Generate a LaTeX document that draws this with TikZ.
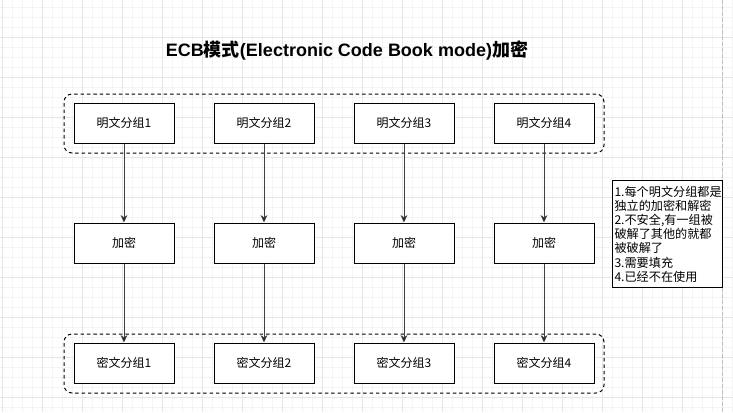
\documentclass[tikz,border=0pt]{standalone}
\usepackage{fontspec}
\setmainfont{Liberation Sans}
\newfontfamily\cjk{Noto Sans CJK SC}
\newfontfamily\cjkb{Noto Sans CJK SC Bold}
\usetikzlibrary{arrows.meta}
\definecolor{gridminor}{HTML}{F4F4F4}
\definecolor{gridmajor}{HTML}{E6E6E6}
\definecolor{pageline}{HTML}{C0C0C0}
\tikzset{
  minorline/.style={draw=gridminor, line width=0.75pt},
  majorline/.style={draw=gridmajor, line width=0.75pt},
  blockbox/.style={draw=black, line width=0.75pt, fill=white, minimum width=75pt, minimum height=30pt, inner sep=0pt, font=\cjk\fontsize{9}{11}\selectfont},
  groupbox/.style={draw=black, line width=0.75pt, dash pattern=on 2.6pt off 2.2pt, rounded corners=6pt, minimum width=405pt, minimum height=44.25pt, inner sep=0pt},
  notebox/.style={draw=black, line width=0.75pt, fill=white, anchor=north west, minimum width=82.5pt, minimum height=80.25pt, text width=79.5pt, inner sep=1.2pt, align=left, font=\cjk\fontsize{9.1}{10.65}\selectfont},
  arr/.style={draw=black!75, line width=0.75pt, -{Stealth[length=5.5pt, width=5pt, inset=1.5pt, fill=black]}}
}
\begin{document}
\begin{tikzpicture}[x=0.75pt, y=-0.75pt]
\useasboundingbox (0,0) rectangle (733,412);
\fill[white] (0,0) rectangle (733,412);
% grid
\foreach \x in {2,12,...,732} \draw[minorline] (\x,0) -- (\x,412);
\foreach \y in {7,17,...,412} \draw[minorline] (0,\y) -- (733,\y);
\foreach \x in {2,42,...,732} \draw[majorline] (\x,0) -- (\x,412);
\foreach \y in {37,77,...,412} \draw[majorline] (0,\y) -- (733,\y);
\draw[pageline, line width=0.75pt, dash pattern=on 3pt off 1.5pt] (722,0) -- (722,412);

% title
\node (title) at (347,51) {\fontsize{13.5}{16}\selectfont\bfseries ECB{\cjkb 模式}(Electronic Code Book mode){\cjkb 加密}};

% containers
\node[groupbox] (top) at (334,123.5) {};
\node[groupbox] (bot) at (334,363.5) {};

% top row
\node[blockbox] (p1) at (124,123) {明文分组1};
\node[blockbox] (p2) at (264,123) {明文分组2};
\node[blockbox] (p3) at (404,123) {明文分组3};
\node[blockbox] (p4) at (544,123) {明文分组4};
% middle row
\node[blockbox] (e1) at (124,243) {加密};
\node[blockbox] (e2) at (264,243) {加密};
\node[blockbox] (e3) at (404,243) {加密};
\node[blockbox] (e4) at (544,243) {加密};
% bottom row
\node[blockbox] (c1) at (124,363) {密文分组1};
\node[blockbox] (c2) at (264,363) {密文分组2};
\node[blockbox] (c3) at (404,363) {密文分组3};
\node[blockbox] (c4) at (544,363) {密文分组4};

\foreach \i in {1,2,3,4} {
  \draw[arr] (p\i.south) -- (e\i.north);
  \draw[arr] (e\i.south) -- (c\i.north);
}

% note
\node[notebox] (note) at (612,180) {1.每个明文分组都是\\独立的加密和解密\\2.不安全,有一组被\\破解了其他的就都\\被破解了\\3.需要填充\\4.已经不在使用};
\end{tikzpicture}
\end{document}
